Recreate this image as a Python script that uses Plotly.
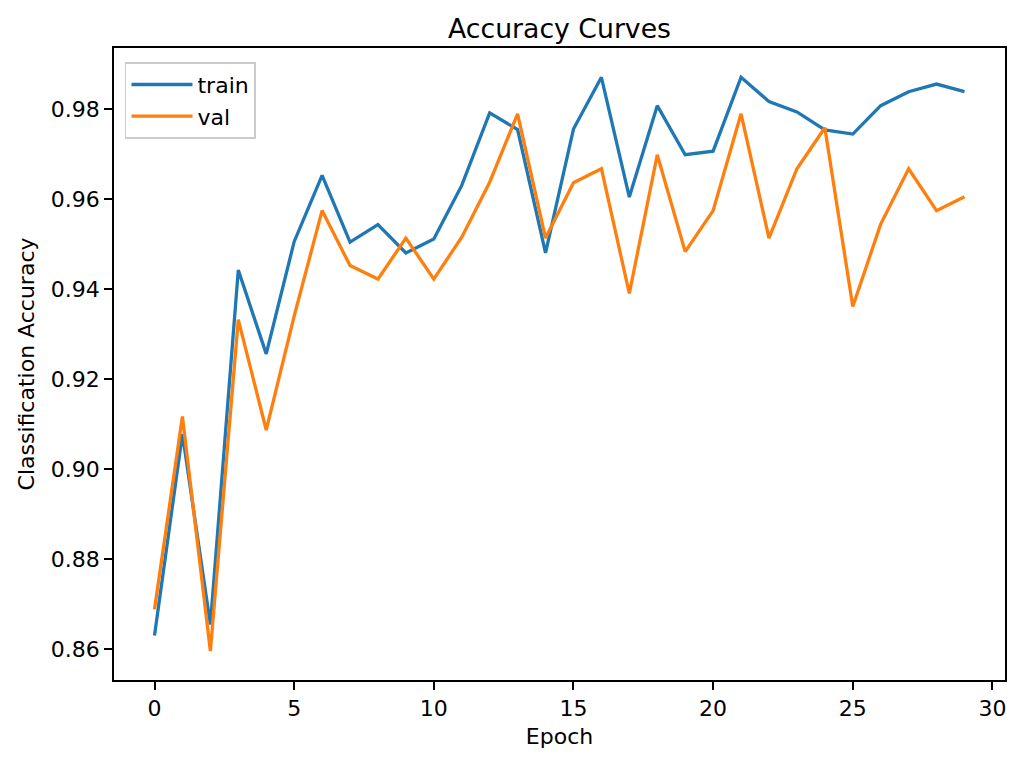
import plotly.graph_objects as go

epochs = list(range(30))
train_acc = [0.8631, 0.9078, 0.8655, 0.9442, 0.9256, 0.9505, 0.9652, 0.9504, 0.9543, 0.9480,
             0.9511, 0.9630, 0.9791, 0.9754, 0.9480, 0.9755, 0.9870, 0.9604, 0.9807, 0.9698,
             0.9706, 0.9870, 0.9816, 0.9793, 0.9753, 0.9744, 0.9807, 0.9838, 0.9855, 0.9838]
val_acc = [0.8689, 0.9117, 0.8596, 0.9332, 0.9087, 0.9340, 0.9574, 0.9452, 0.9422, 0.9513,
           0.9422, 0.9515, 0.9637, 0.9789, 0.9513, 0.9636, 0.9667, 0.9390, 0.9698, 0.9483,
           0.9574, 0.9789, 0.9513, 0.9667, 0.9758, 0.9361, 0.9544, 0.9667, 0.9574, 0.9605]

FONT = "DejaVu Sans"

fig = go.Figure()
fig.add_trace(go.Scatter(x=epochs, y=train_acc, mode="lines", name="train",
                         line=dict(color="#1f77b4", width=3.3)))
fig.add_trace(go.Scatter(x=epochs, y=val_acc, mode="lines", name="val",
                         line=dict(color="#ff7f0e", width=3.3)))

axis_common = dict(showline=True, linecolor="black", linewidth=1.8, mirror=True,
                   ticks="outside", ticklen=8, tickwidth=1.8, tickcolor="black",
                   showgrid=False, zeroline=False,
                   tickfont=dict(family=FONT, size=22, color="black"))

fig.update_layout(
    width=1024, height=765,
    paper_bgcolor="white", plot_bgcolor="white",
    margin=dict(l=106, r=27, t=40, b=93),
    font=dict(family=FONT, size=22, color="black"),
    title=dict(text="Accuracy Curves", x=0.5, xanchor="center", xref="paper",
               y=1, yref="paper", yanchor="bottom", pad=dict(b=10),
               font=dict(family=FONT, size=26.7, color="black")),
    xaxis=dict(range=[-1.45, 30.45], tickmode="linear", tick0=0, dtick=5,
               title=dict(text="Epoch", font=dict(family=FONT, size=22), standoff=8),
               **axis_common),
    yaxis=dict(range=[0.8532, 0.9935], tickmode="linear", tick0=0.86, dtick=0.02,
               tickformat=".2f",
               title=dict(text="Classification Accuracy", font=dict(family=FONT, size=22), standoff=10),
               **axis_common),
    legend=dict(x=0.012, y=0.978, xanchor="left", yanchor="top",
                bgcolor="rgba(255,255,255,0.8)", bordercolor="#cccccc", borderwidth=1.8,
                font=dict(family=FONT, size=22, color="black"),
                itemwidth=61, tracegroupgap=0),
    showlegend=True,
)

fig.write_html("out.html")
